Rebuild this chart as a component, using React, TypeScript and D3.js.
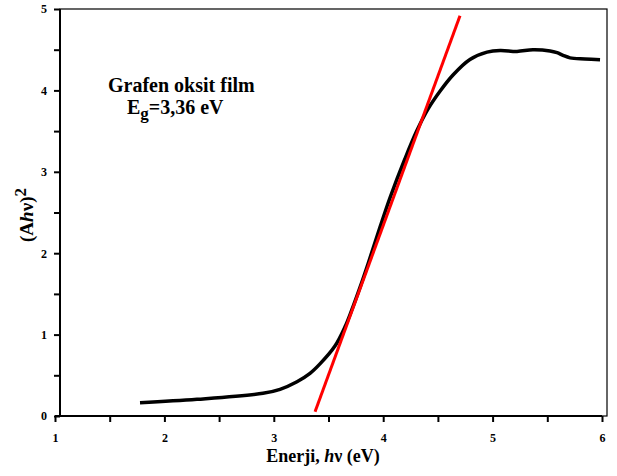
import React, { useEffect, useRef } from 'react';
import * as d3 from 'd3';

// measured curve, (Ahv)^2 vs photon energy
const energy = [1.777, 2.298, 2.901, 3.057, 3.212, 3.331, 3.422, 3.559, 3.651, 3.712, 3.788, 3.864, 3.971, 4.062, 4.199, 4.306, 4.409, 4.519, 4.638, 4.793, 4.949, 5.068, 5.223, 5.369, 5.525, 5.589, 5.644, 5.708, 5.845, 5.982];
const absorb = [0.163, 0.205, 0.279, 0.328, 0.421, 0.524, 0.64, 0.86, 1.096, 1.3, 1.58, 1.88, 2.32, 2.68, 3.16, 3.5, 3.77, 3.99, 4.19, 4.38, 4.47, 4.491, 4.479, 4.5, 4.485, 4.463, 4.43, 4.4, 4.387, 4.377];

// linear fit (tangent) endpoints
const fitX = [3.377, 4.702];
const fitY = [0.053, 4.917];

const xTicks = [1, 1.5, 2, 2.5, 3, 3.5, 4, 4.5, 5, 5.5, 6];
const yTicks = [0, 0.5, 1, 1.5, 2, 2.5, 3, 3.5, 4, 4.5, 5];

const W = 617;
const H = 476;
const font = "'Liberation Serif', 'Times New Roman', serif";

export default function App() {
  const svgRef = useRef<SVGSVGElement>(null);

  useEffect(() => {
    const svg = d3.select(svgRef.current);
    svg.selectAll('*').remove();

    const x = d3.scaleLinear().domain([1, 6]).range([55, 602]);
    const y = d3.scaleLinear().domain([0, 5]).range([416, 9]);
    const shift = 5; // frame sits a few px right of the x scale

    // frame
    svg.append('rect')
      .attr('x', x(1) + shift).attr('y', y(5))
      .attr('width', x(6) - x(1)).attr('height', y(0) - y(5))
      .attr('fill', 'none').attr('stroke', '#000').attr('stroke-width', 1.2);

    // x axis
    const xAxis = svg.append('g')
      .attr('transform', `translate(0,${y(0)})`)
      .call(d3.axisBottom(x).tickValues(xTicks).tickSize(6)
        .tickFormat(d => (Number.isInteger(+d) ? String(d) : '')));
    xAxis.select('.domain').attr('stroke-width', 2).attr('d', `M${x(1)},0H${x(6)}`);
    xAxis.selectAll('line').attr('stroke-width', 2);
    xAxis.selectAll('text')
      .attr('dy', 0).attr('y', 26)
      .style('font-family', font).style('font-size', '12px').style('font-weight', 'bold');

    // y axis
    const yAxis = svg.append('g')
      .attr('transform', `translate(${x(1) + shift},0)`)
      .call(d3.axisLeft(y).tickValues(yTicks).tickSize(6)
        .tickFormat(d => (Number.isInteger(+d) ? String(d) : '')));
    yAxis.select('.domain').attr('stroke-width', 2).attr('d', `M0,${y(0)}V${y(5)}`);
    yAxis.selectAll('line').attr('stroke-width', 2);
    yAxis.selectAll('text')
      .attr('x', -13)
      .style('font-family', font).style('font-size', '12px').style('font-weight', 'bold');

    // data curve
    const pts = energy.map((e, i) => [e, absorb[i]] as [number, number]);
    const line = d3.line<[number, number]>()
      .x(d => x(d[0])).y(d => y(d[1]))
      .curve(d3.curveCatmullRom.alpha(0.5));
    svg.append('path').datum(pts)
      .attr('d', line)
      .attr('fill', 'none').attr('stroke', '#000').attr('stroke-width', 3.5)
      .attr('stroke-linejoin', 'round');

    // fit line
    const fit = fitX.map((e, i) => [e, fitY[i]] as [number, number]);
    svg.append('path').datum(fit)
      .attr('d', d3.line<[number, number]>().x(d => x(d[0])).y(d => y(d[1])))
      .attr('stroke', '#ff0000').attr('stroke-width', 3).attr('fill', 'none');

    // annotation
    const ann = svg.append('g')
      .style('font-family', font).style('font-weight', 'bold').style('font-size', '20px');
    ann.append('text').attr('x', 108).attr('y', 92).text('Grafen oksit film');
    const eg = ann.append('text').attr('x', 127).attr('y', 114);
    eg.append('tspan').text('E');
    eg.append('tspan').attr('dy', 5).style('font-size', '17px').text('g');
    eg.append('tspan').attr('dy', -5).text('=3,36 eV');

    // axis titles
    const xt = svg.append('text')
      .attr('x', 323).attr('y', 462).attr('text-anchor', 'middle')
      .style('font-family', font).style('font-weight', 'bold').style('font-size', '18px');
    xt.append('tspan').text('Enerji, ');
    xt.append('tspan').style('font-style', 'italic').text('h');
    xt.append('tspan').text('\u03bd (eV)');

    const yt = svg.append('text')
      .attr('transform', 'translate(33,215) rotate(-90)').attr('text-anchor', 'middle')
      .style('font-family', font).style('font-weight', 'bold').style('font-size', '19px');
    yt.append('tspan').text('(A');
    yt.append('tspan').style('font-style', 'italic').text('h');
    yt.append('tspan').text('\u03bd)');
    yt.append('tspan').attr('dy', -7).style('font-size', '17px').text('2');
  }, []);

  return (
    <svg ref={svgRef} width={W} height={H}
      style={{ position: 'absolute', left: 0, top: 0, background: '#fff' }} />
  );
}
